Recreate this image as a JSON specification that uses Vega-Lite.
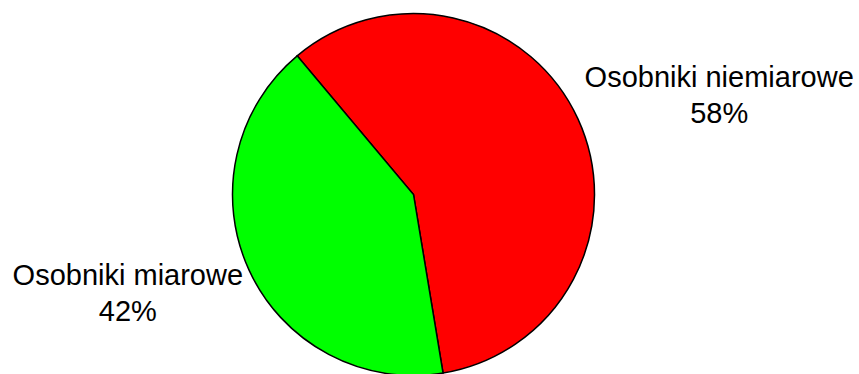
{
  "$schema": "https://vega.github.io/schema/vega-lite/v6.json",
  "autosize": {"type": "none"},
  "width": 827,
  "height": 359,
  "padding": {"left": 0, "top": 15, "right": 32, "bottom": 0},
  "background": "white",
  "config": {"view": {"stroke": null}},
  "data": {
    "values": [
      {"name": "Osobniki niemiarowe", "value": 58.5, "label": "Osobniki niemiarowe\n58%"},
      {"name": "Osobniki miarowe", "value": 41.5, "label": "Osobniki miarowe\n42%"}
    ]
  },
  "encoding": {
    "theta": {"field": "value", "type": "quantitative", "stack": true, "scale": {"range": [-0.698, 5.585]}},
    "order": {"field": "name", "sort": "descending"}
  },
  "layer": [
    {
      "mark": {"type": "arc", "radius": 181, "stroke": "black", "strokeWidth": 1.5},
      "encoding": {
        "color": {
          "field": "name", "type": "nominal",
          "scale": {"domain": ["Osobniki niemiarowe", "Osobniki miarowe"], "range": ["#FF0000", "#00FF00"]},
          "legend": null
        }
      }
    },
    {
      "mark": {"type": "text", "radius": 327, "thetaOffset": 0.068, "font": "Liberation Sans", "fontSize": 29, "lineHeight": 36, "lineBreak": "\n", "align": "center", "baseline": "middle", "color": "black"},
      "encoding": {"text": {"condition": {"test": "datum.name == 'Osobniki niemiarowe'", "field": "label"}, "value": ""}}
    },
    {
      "mark": {"type": "text", "radius": 297, "thetaOffset": 0.154, "font": "Liberation Sans", "fontSize": 29, "lineHeight": 36, "lineBreak": "\n", "align": "center", "baseline": "middle", "color": "black"},
      "encoding": {"text": {"condition": {"test": "datum.name == 'Osobniki miarowe'", "field": "label"}, "value": ""}}
    }
  ]
}
